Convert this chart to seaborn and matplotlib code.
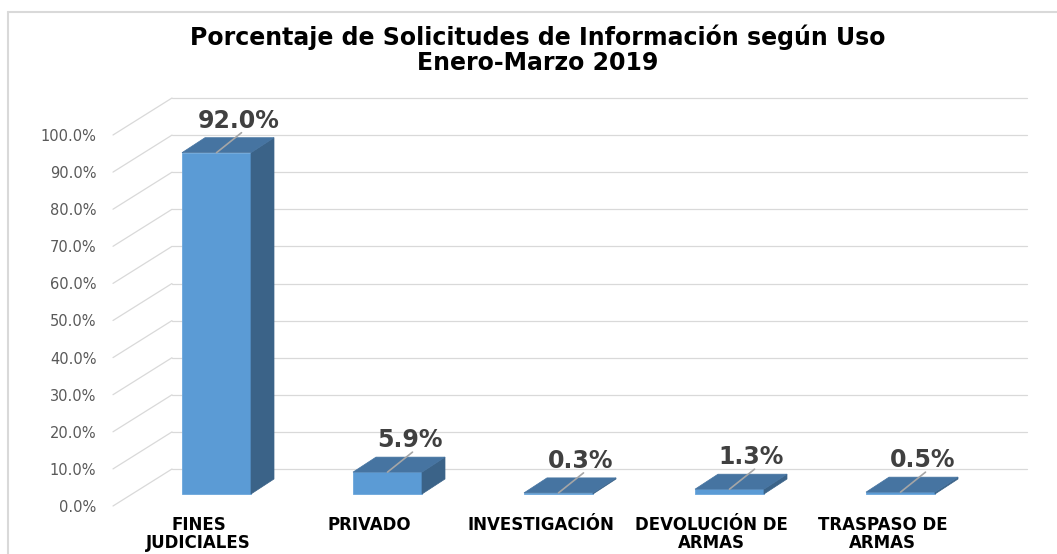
import numpy as np
import pandas as pd
import matplotlib
matplotlib.use("Agg")
import matplotlib.pyplot as plt
import matplotlib.transforms as mtransforms
from matplotlib.patches import Polygon
from matplotlib.lines import Line2D
import seaborn as sns

# data
categorias = ["FINES\nJUDICIALES", "PRIVADO", "INVESTIGACIÓN", "DEVOLUCIÓN DE\nARMAS", "TRASPASO DE\nARMAS"]
porcentajes = [92.0, 5.9, 0.3, 1.3, 0.5]
ticks_y = list(range(0, 101, 10))
titulo = "Porcentaje de Solicitudes de Información según Uso\nEnero-Marzo 2019"

sns.set_style("white")
plt.rcParams['font.family'] = ['DejaVu Sans']

W, H = 1057, 554
fig = plt.figure(figsize=(W / 100, H / 100), dpi=100)
# front plane of the 3d box: x 113..968 px, y 506 (0%) .. 135 (100%)
ax = fig.add_axes([113 / W, (H - 506) / H, 855 / W, 371 / H])

cat_px = 171.0   # px per category
pct_px = 3.71    # px per percent

frente = "#5B9BD5"
arriba = "#4674A1"
lado = "#3B6388"
grid_c = "#D9D9D9"

# back wall gridlines (oblique depth)
dx_back = 59 / cat_px
dy_back = 37 / pct_px
for t in ticks_y:
    ax.plot([-0.5, -0.5 + dx_back], [t, t + dy_back], color=grid_c, lw=0.9, zorder=0, clip_on=False)
    ax.plot([-0.5 + dx_back, 4.5 + dx_back], [t + dy_back, t + dy_back], color=grid_c, lw=0.9, zorder=0, clip_on=False)

# bars sit a bit behind the front plane
bar_tr = mtransforms.offset_copy(ax.transData, fig=fig, x=18, y=12, units='dots')

df = pd.DataFrame({"cat": categorias, "val": porcentajes})
ancho = 69 / cat_px
sns.barplot(data=df, x="cat", y="val", color=frente, saturation=1, width=ancho, ax=ax, zorder=3)
for p in ax.patches:
    p.set_transform(bar_tr)
    p.set_clip_on(False)
    p.set_edgecolor("#6BA6DB")
    p.set_linewidth(0.6)

ddx = 23 / cat_px
ddy = 15 / pct_px
for i, v in enumerate(porcentajes):
    x0, x1 = i - ancho / 2, i + ancho / 2
    top = Polygon([(x0, v), (x1, v), (x1 + ddx, v + ddy), (x0 + ddx, v + ddy)], closed=True,
                  facecolor=arriba, edgecolor=arriba, lw=0.5, transform=bar_tr, zorder=4, clip_on=False)
    side = Polygon([(x1, 0), (x1, v), (x1 + ddx, v + ddy), (x1 + ddx, ddy)], closed=True,
                   facecolor=lado, edgecolor=lado, lw=0.5, transform=bar_tr, zorder=4, clip_on=False)
    ax.add_patch(side)
    ax.add_patch(top)
    # leader line + data label
    ax.plot([i, i + 25 / cat_px], [v, v + 20 / pct_px], color="#A6A6A6", lw=1.2,
            transform=bar_tr, zorder=5, clip_on=False)
    ax.text(i + 22 / cat_px, v + 32 / pct_px, f"{v:.1f}%", transform=bar_tr, ha="center", va="center",
            fontsize=17, fontweight="bold", color="#404040", zorder=6)

ax.set_xlim(-0.5, 4.5)
ax.set_ylim(0, 100)
ax.set_yticks(ticks_y)
ax.set_yticklabels([f"{t:.1f}%" for t in ticks_y], fontsize=10.5, color="#595959")
ax.set_xticks(range(len(categorias)))
ax.set_xticklabels(categorias, fontsize=12, fontweight="bold", color="black", linespacing=1.0)
ax.tick_params(axis="y", length=0, pad=12)
ax.tick_params(axis="x", length=0, pad=7)
ax.set_xlabel("")
ax.set_ylabel("")
for s in ax.spines.values():
    s.set_visible(False)
ax.patch.set_alpha(0)

fig.text(538 / W, 1 - 50 / H, titulo, ha="center", va="center", fontsize=17, fontweight="bold",
         color="black", linespacing=1.05)

# chart area border
fig.add_artist(Line2D([8 / W, 1.0], [1 - 12 / H, 1 - 12 / H], color=grid_c, lw=1.5))
fig.add_artist(Line2D([8 / W, 8 / W], [0, 1 - 12 / H], color=grid_c, lw=1.5))

fig.savefig("out.png", dpi=100)
